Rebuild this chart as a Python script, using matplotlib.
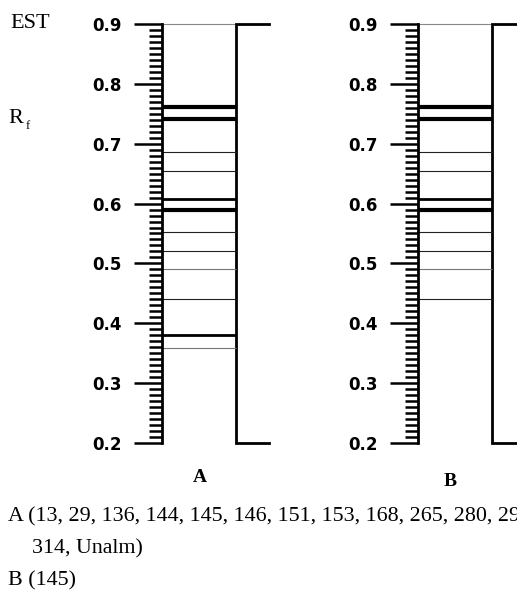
import matplotlib
matplotlib.use("Agg")
import matplotlib.pyplot as plt
import numpy as np

# Rf values of the bands seen on each plate lane
lanes = ["A", "B"]
rf_A = [0.762, 0.742, 0.686, 0.655, 0.608, 0.590, 0.552, 0.521, 0.491, 0.441, 0.380, 0.359]
band_A = ["heavy", "heavy", "thin", "thin", "medium", "heavy", "thin", "thin", "faint", "thin", "medium", "faint"]
rf_B = [0.762, 0.742, 0.686, 0.655, 0.608, 0.590, 0.552, 0.521, 0.491, 0.441]
band_B = ["heavy", "heavy", "thin", "thin", "medium", "heavy", "thin", "thin", "faint", "thin"]

y_ticks = [0.2, 0.3, 0.4, 0.5, 0.6, 0.7, 0.8, 0.9]
caption = ["A (13, 29, 136, 144, 145, 146, 151, 153, 168, 265, 280, 290,",
           "314, Unalm)",
           "B (145)"]

band_style = {
    "heavy": dict(lw=3.0, color="black"),
    "medium": dict(lw=2.0, color="black"),
    "thin": dict(lw=0.8, color="#222222"),
    "faint": dict(lw=0.8, color="#777777"),
}

W, H = 517, 592
fig = plt.figure(figsize=(W / 100, H / 100), dpi=100)


def px(x, y):
    # pixel position (from top-left) -> figure fraction
    return x / W, 1 - y / H


def draw_lane(left_px, rfs, bands, label, label_pos):
    top, bottom = 24, 443
    ax = fig.add_axes([left_px / W, 1 - bottom / H, 100 / W, (bottom - top) / H])
    ax.set_xlim(0, 100 / 74)
    ax.set_ylim(0.2, 0.9)
    for s in ["top", "right", "bottom"]:
        ax.spines[s].set_visible(False)
    ax.spines["left"].set_linewidth(2)
    ax.set_xticks([])
    ax.set_yticks(y_ticks)
    ax.set_yticks(np.arange(0.2, 0.9, 0.01), minor=True)
    ax.tick_params(axis="y", which="major", length=20, width=1.8, pad=9,
                   labelsize=12)
    ax.tick_params(axis="y", which="minor", length=9.5, width=1.8)
    ax.set_yticklabels([f"{v:.1f}" for v in y_ticks], fontweight="bold")

    # lane frame: thin top line, right side with outward stubs
    ax.plot([0, 1], [0.9, 0.9], color="#888888", lw=0.8, clip_on=False)
    ax.plot([1.45, 1, 1, 1.45], [0.9, 0.9, 0.2, 0.2], color="black", lw=2,
            solid_joinstyle="miter", clip_on=False)

    for rf, b in zip(rfs, bands):
        ax.plot([0, 1], [rf, rf], solid_capstyle="butt", clip_on=False, **band_style[b])

    fig.text(*px(*label_pos), label, ha="center", va="baseline",
             fontsize=14, fontweight="bold", family="Liberation Serif")


draw_lane(162, rf_A, band_A, lanes[0], (200, 482))
draw_lane(418, rf_B, band_B, lanes[1], (450, 486))

serif = "Liberation Serif"
fig.text(*px(10, 28), "EST", fontsize=16, family=serif, va="baseline")
fig.text(*px(8, 123), "R", fontsize=16, family=serif, va="baseline")
fig.text(*px(26, 129), "f", fontsize=9, family=serif, va="baseline")

fig.text(*px(8, 521), caption[0], fontsize=15.8, family=serif, va="baseline")
fig.text(*px(32, 553), caption[1], fontsize=15.8, family=serif, va="baseline")
fig.text(*px(8, 585), caption[2], fontsize=15.8, family=serif, va="baseline")

fig.savefig("out.png", dpi=100)
